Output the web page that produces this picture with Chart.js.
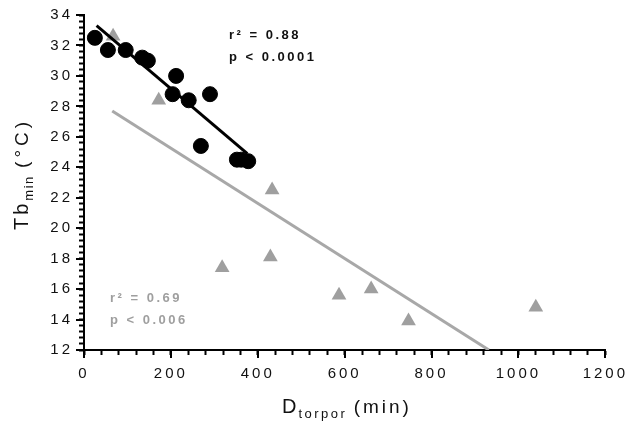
<!DOCTYPE html>
<html>
<head>
<meta charset="utf-8">
<script src="https://cdn.jsdelivr.net/npm/chart.js@4"></script>
<style>
  html, body { margin: 0; padding: 0; background: #fff; }
  #wrap { width: 638px; height: 427px; }
</style>
</head>
<body>
<div id="wrap"><canvas id="c"></canvas></div>
<script>
// black circles
const circleX = [25, 55, 96, 134, 147, 204, 212, 241, 269, 290, 352, 362, 378];
const circleY = [32.5, 31.7, 31.7, 31.2, 31.0, 28.8, 30.0, 28.4, 25.4, 28.8, 24.5, 24.5, 24.4];
// grey triangles
const triX = [67, 172, 318, 429, 433, 587, 661, 747, 1040];
const triY = [32.6, 28.4, 17.4, 18.1, 22.5, 15.6, 16.0, 13.9, 14.8];
// regression lines (end points)
const fitBlackX = [29, 376];
const fitBlackY = [33.3, 24.9];
const fitGreyX = [65, 932];
const fitGreyY = [27.7, 12.0];
// axes
const xTicks = [0, 200, 400, 600, 800, 1000, 1200];
const yTicks = [12, 14, 16, 18, 20, 22, 24, 26, 28, 30, 32, 34];
const xMinorStep = 40;
const yMinorStep = 0.4;

const GREY = '#9f9f9f';
const FONT = '"Liberation Sans", Arial, sans-serif';

const pts = (xs, ys) => xs.map((x, i) => ({ x: x, y: ys[i] }));

// every tick position (major + minor), labels only on the majors
const xAll = [];
for (let i = 0; i * xMinorStep <= 1200; i++) xAll.push(i * xMinorStep);
const yAll = [];
for (let i = 0; i * yMinorStep <= 22.001; i++) yAll.push(Math.round((12 + i * yMinorStep) * 10) / 10);

function txt(ctx, s, x, y, size, color, spacing, bold) {
  ctx.font = (bold ? 'bold ' : '') + size + 'px ' + FONT;
  ctx.fillStyle = color;
  ctx.letterSpacing = spacing + 'px';
  ctx.fillText(s, x, y);
  return ctx.measureText(s).width;
}

const extras = {
  id: 'extras',
  // spaced-out tick labels like the original
  beforeUpdate(chart) { chart.ctx.letterSpacing = '3px'; },
  beforeDraw(chart) { chart.ctx.letterSpacing = '3px'; },
  afterDraw(chart) {
    const ctx = chart.ctx;
    const xs = chart.scales.x, ys = chart.scales.y;
    const a = chart.chartArea;
    ctx.save();
    // longer major ticks
    ctx.fillStyle = '#000';
    xTicks.forEach(v => {
      const px = Math.round(xs.getPixelForValue(v));
      ctx.fillRect(px - 1, a.bottom, 2, 8);
    });
    yTicks.forEach(v => {
      const py = Math.round(ys.getPixelForValue(v));
      ctx.fillRect(a.left - 8, py - 1, 8, 2);
    });

    ctx.textAlign = 'left';
    ctx.textBaseline = 'alphabetic';
    // stats
    txt(ctx, 'r\u00b2 = 0.88', 229, 39, 13, '#111', 2.5, true);
    txt(ctx, 'p < 0.0001', 229, 61, 13, '#111', 2.5, true);
    txt(ctx, 'r\u00b2 = 0.69', 110, 302, 13, GREY, 2.5, true);
    txt(ctx, 'p < 0.006', 110, 324, 13, GREY, 2.5, true);

    // x title
    let x = 282;
    x += txt(ctx, 'D', x, 413, 20, '#111', 2, false);
    x += txt(ctx, 'torpor', x, 418, 13, '#111', 2.5, false);
    txt(ctx, ' (min)', x - 2, 413, 19, '#111', 3, false);

    // y title
    ctx.translate(28, 230);
    ctx.rotate(-Math.PI / 2);
    let y = 0;
    y += txt(ctx, 'Tb', y, 0, 20, '#111', 3, false);
    y += txt(ctx, 'min', y, 5, 13, '#111', 1.5, false);
    txt(ctx, ' (\u00b0C)', y - 2, 0, 19, '#111', 4, false);
    ctx.restore();
  }
};

new Chart(document.getElementById('c'), {
  type: 'scatter',
  data: {
    datasets: [
      {
        data: pts(circleX, circleY),
        pointStyle: 'circle',
        pointRadius: 7.5,
        backgroundColor: '#000',
        borderColor: '#000',
        order: 0
      },
      {
        data: pts(fitBlackX, fitBlackY),
        showLine: true,
        pointRadius: 0,
        borderColor: '#000',
        borderWidth: 3,
        order: 1
      },
      {
        data: pts(triX, triY),
        pointStyle: 'triangle',
        pointRadius: 8.5,
        backgroundColor: GREY,
        borderColor: GREY,
        borderWidth: 0,
        order: 2
      },
      {
        data: pts(fitGreyX, fitGreyY),
        showLine: true,
        pointRadius: 0,
        borderColor: '#a8a8a8',
        borderWidth: 3,
        order: 3
      }
    ]
  },
  options: {
    responsive: true,
    maintainAspectRatio: false,
    animation: false,
    layout: { padding: { left: 0, right: 29, top: 15, bottom: 0 } },
    plugins: { legend: { display: false }, tooltip: { enabled: false } },
    scales: {
      x: {
        type: 'linear',
        min: 0,
        max: 1200,
        afterBuildTicks: s => { s.ticks = xAll.map(v => ({ value: v })); },
        afterFit: s => { s.height = 77; },
        border: { color: '#000', width: 2 },
        grid: { drawOnChartArea: false, tickLength: 5, tickColor: '#000', tickWidth: 2 },
        ticks: {
          color: '#111', padding: 10, autoSkip: false, maxRotation: 0,
          font: { family: FONT, size: 15 },
          callback: v => xTicks.includes(v) ? String(v) : ''
        }
      },
      y: {
        type: 'linear',
        min: 12,
        max: 34,
        afterBuildTicks: s => { s.ticks = yAll.map(v => ({ value: v })); },
        afterFit: s => { s.width = 84; },
        border: { color: '#000', width: 2 },
        grid: { drawOnChartArea: false, tickLength: 5, tickColor: '#000', tickWidth: 2 },
        ticks: {
          color: '#111', padding: 6, autoSkip: false,
          font: { family: FONT, size: 15 },
          callback: v => yTicks.includes(Math.round(v * 10) / 10) ? String(Math.round(v)) : ''
        }
      }
    }
  },
  plugins: [extras]
});
</script>
</body>
</html>
